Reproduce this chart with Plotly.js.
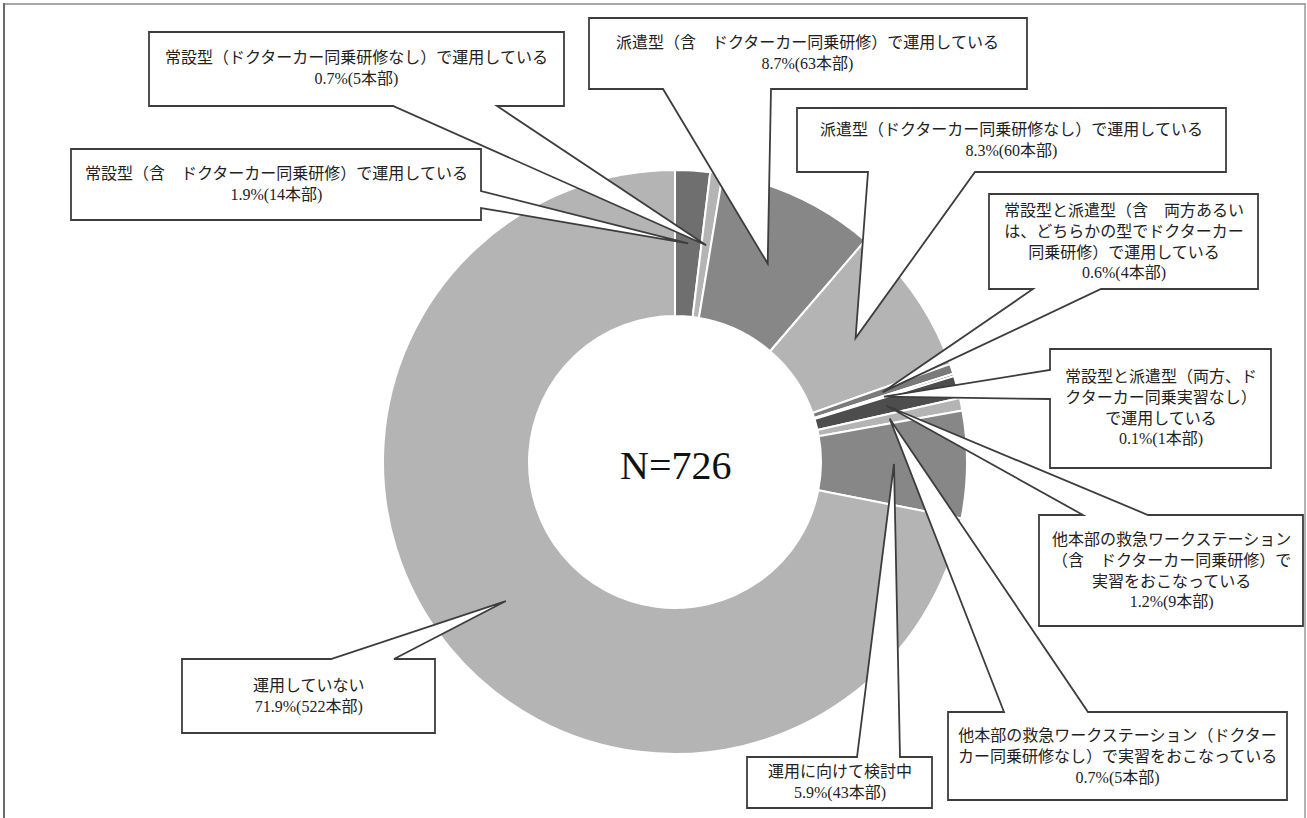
<!DOCTYPE html>
<html>
<head>
<meta charset="utf-8">
<script src="https://cdn.plot.ly/plotly-3.0.1.min.js"></script>
<style>
  html, body { margin: 0; padding: 0; background: #fff; }
  #chart { width: 1307px; height: 818px; }
</style>
</head>
<body>
<div id="chart"></div>
<script>
// categories (clockwise from 12 o'clock)
var labels = [
  '常設型（含　ドクターカー同乗研修）で運用している',
  '常設型（ドクターカー同乗研修なし）で運用している',
  '派遣型（含　ドクターカー同乗研修）で運用している',
  '派遣型（ドクターカー同乗研修なし）で運用している',
  '常設型と派遣型（含　両方あるい<br>は、どちらかの型でドクターカー<br>同乗研修）で運用している',
  '常設型と派遣型（両方、ド<br>クターカー同乗実習なし）<br>で運用している',
  '他本部の救急ワークステーション<br>（含　ドクターカー同乗研修）で<br>実習をおこなっている',
  '他本部の救急ワークステーション（ドクター<br>カー同乗研修なし）で実習をおこなっている',
  '運用に向けて検討中',
  '運用していない'
];
var counts = [14, 5, 63, 60, 4, 1, 9, 5, 43, 522];
var percents = [1.9, 0.7, 8.7, 8.3, 0.6, 0.1, 1.2, 0.7, 5.9, 71.9];
var total = 726;

var colors = ['#6f6f6f', '#b4b4b4', '#878787', '#b4b4b4', '#7a7a7a',
              '#5a5a5a', '#4d4d4d', '#b4b4b4', '#878787', '#b4b4b4'];

// page geometry (pixels)
var W = 1307, H = 818;
var cx = 675, cy = 462, R = 292, hole = 0.5;

// callout boxes: [left, top, right, bottom], side of the pointer, pointer base
var callouts = [
  {box: [71, 149, 481, 220],   side: 'right',  base: [191, 208]},
  {box: [149, 32, 564, 106],   side: 'bottom', base: [393, 497]},
  {box: [589, 18, 1027, 89],   side: 'bottom', base: [663, 771]},
  {box: [797, 108, 1226, 172], side: 'bottom', base: [868, 975]},
  {box: [989, 194, 1258, 289], side: 'bottom', base: [1033, 1101]},
  {box: [1050, 349, 1271, 468], side: 'left',  base: [370, 399]},
  {box: [1039, 515, 1303, 626], side: 'top',   base: [1083, 1148]},
  {box: [948, 712, 1287, 800], side: 'top',    base: [1004, 1088]},
  {box: [747, 757, 932, 808],  side: 'top',    base: [857, 900]},
  {box: [182, 659, 435, 733],  side: 'top',    base: [331, 394]}
];

function px(x) { return x / W; }
function py(y) { return 1 - y / H; }

var font = "'Liberation Serif', 'Noto Sans CJK JP', serif";

var shapes = [];
var annotations = [];
var cum = 0;
for (var i = 0; i < counts.length; i++) {
  var mid = (cum + counts[i] / 2) / total * 2 * Math.PI;
  cum += counts[i];
  var rr = R * (1 + hole) / 2;
  var tx = cx + rr * Math.sin(mid), ty = cy - rr * Math.cos(mid);
  var c = callouts[i], b = c.box;
  var l = b[0], t = b[1], r = b[2], bt = b[3];
  var pts;
  if (c.side === 'bottom') {
    pts = [[l, t], [r, t], [r, bt], [c.base[1], bt], [tx, ty], [c.base[0], bt], [l, bt]];
  } else if (c.side === 'top') {
    pts = [[l, t], [c.base[0], t], [tx, ty], [c.base[1], t], [r, t], [r, bt], [l, bt]];
  } else if (c.side === 'right') {
    pts = [[l, t], [r, t], [r, c.base[0]], [tx, ty], [r, c.base[1]], [r, bt], [l, bt]];
  } else {
    pts = [[l, t], [r, t], [r, bt], [l, bt], [l, c.base[1]], [tx, ty], [l, c.base[0]]];
  }
  var path = pts.map(function (p, k) {
    return (k ? 'L' : 'M') + px(p[0]).toFixed(5) + ',' + py(p[1]).toFixed(5);
  }).join(' ') + ' Z';
  shapes.push({
    type: 'path', xref: 'paper', yref: 'paper', path: path,
    fillcolor: '#ffffff', line: {color: '#3d3d3d', width: 1.8}, layer: 'above'
  });
  annotations.push({
    xref: 'paper', yref: 'paper',
    x: px((l + r) / 2), y: py((t + bt) / 2),
    xanchor: 'center', yanchor: 'middle', showarrow: false, align: 'center',
    text: labels[i] + '<br>' + percents[i].toFixed(1) + '%(' + counts[i] + '本部)',
    font: {family: font, size: 16, color: '#222222'}
  });
}

// frame
shapes.push({type: 'line', xref: 'paper', yref: 'paper', x0: px(3), x1: px(1305), y0: py(4), y1: py(4), line: {color: '#8a8a8a', width: 1.5}});
shapes.push({type: 'line', xref: 'paper', yref: 'paper', x0: px(4), x1: px(4), y0: py(3), y1: 0, line: {color: '#6a6a6a', width: 2}});
shapes.push({type: 'line', xref: 'paper', yref: 'paper', x0: px(1305), x1: px(1305), y0: py(3), y1: 0, line: {color: '#9a9a9a', width: 1.5}});

annotations.push({
  xref: 'paper', yref: 'paper', x: px(cx), y: py(cy + 3),
  xanchor: 'center', yanchor: 'middle', showarrow: false,
  text: 'N=' + total,
  font: {family: "'Liberation Serif', serif", size: 40, color: '#111111'}
});

var donut = {
  type: 'pie',
  values: counts,
  labels: labels,
  hole: hole,
  sort: false,
  direction: 'clockwise',
  rotation: 0,
  textinfo: 'none',
  hoverinfo: 'none',
  showlegend: false,
  marker: {colors: colors, line: {color: '#ffffff', width: 2}},
  domain: {x: [px(cx - R), px(cx + R)], y: [py(cy + R), py(cy - R)]}
};

var layout = {
  width: W, height: H,
  margin: {l: 0, r: 0, t: 0, b: 0},
  paper_bgcolor: '#ffffff',
  showlegend: false,
  shapes: shapes,
  annotations: annotations
};

Plotly.newPlot('chart', [donut], layout, {displayModeBar: false, staticPlot: true});
</script>
</body>
</html>
